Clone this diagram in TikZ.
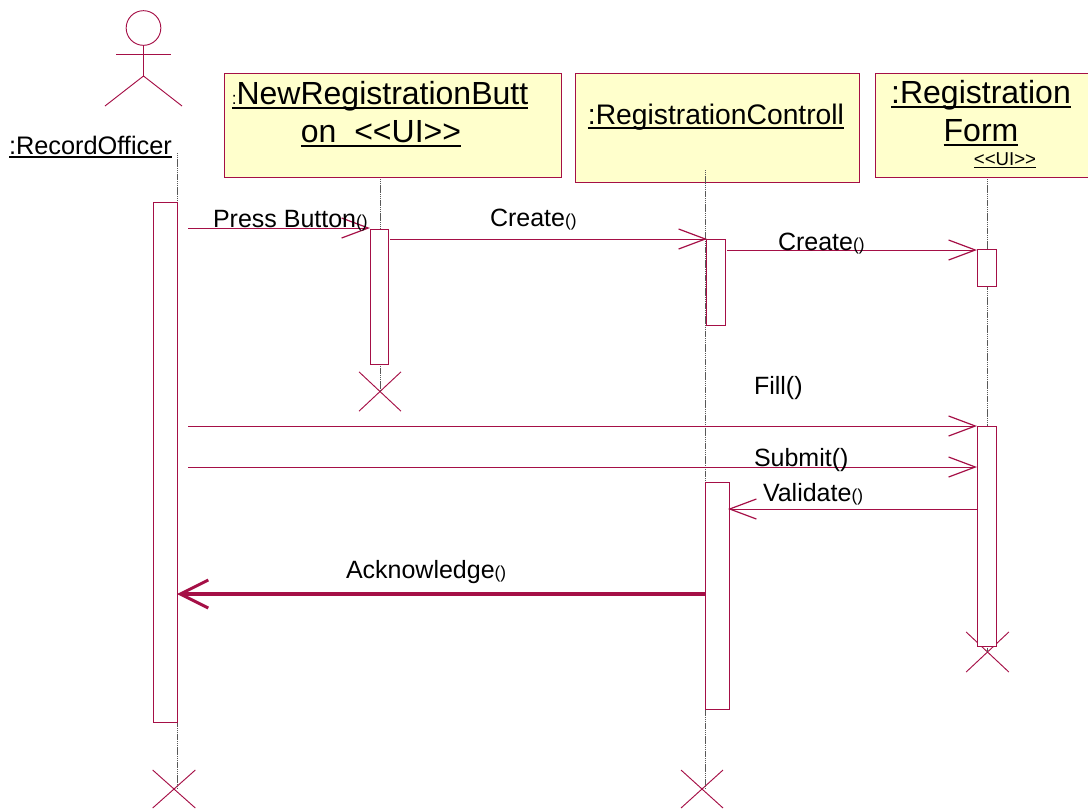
\documentclass[tikz,border=0pt]{standalone}
\usepackage{fontspec}
\setmainfont{Liberation Sans}
\usetikzlibrary{arrows.meta,shapes.misc}
\definecolor{umlline}{HTML}{A50F46}
\definecolor{umlfill}{HTML}{FFFFCC}
\newcommand{\ulined}[1]{\leavevmode\setbox0\hbox{#1}\rlap{\raisebox{-0.17em}{\rule{\wd0}{0.075em}}}\box0}
\newcommand{\pxfont}[1]{\fontsize{#1}{#1}\selectfont}
\newcommand{\uitag}{\textless\kern0pt\textless\kern0pt UI\textgreater\kern0pt\textgreater}
\begin{document}
\begin{tikzpicture}[
  x=0.75pt, y=-0.75pt,
  every node/.style={inner sep=0pt, outer sep=0pt},
  objbox/.style={rectangle, draw=umlline, fill=umlfill, line width=0.65pt},
  actbar/.style={rectangle, draw=umlline, fill=white, line width=0.7pt, minimum width=#1*0.75pt},
  destroyed/.style={cross out, draw=umlline, line width=0.7pt},
  lifeline/.style={black!65, dash pattern=on 1pt off 0.4pt, line width=0.5pt},
  msg/.style={draw=umlline, line width=0.7pt, -{Straight Barb[length=20pt, width=15pt, line width=0.9pt]}},
  retmsg/.style={draw=umlline, line width=2.5pt, -{Straight Barb[length=21pt, width=21pt, line width=2.2pt]}},
  actorline/.style={draw=umlline, line width=0.7pt},
  bigtext/.style={font=\pxfont{18.75}, anchor=base west},
  objtext/.style={align=center, anchor=base}
]
\useasboundingbox (0,0) rectangle (1088,808);

% Object boxes
\node[objbox, minimum width=252.75pt, minimum height=78pt] (buttonbox) at (392.5,125) {};
\node[objbox, minimum width=213pt, minimum height=81.75pt] (controlbox) at (717,127.5) {};
\node[objbox, minimum width=160.5pt, minimum height=78pt] (formbox) at (982,125) {};
\node[objtext, font=\pxfont{24}] (buttonname) at (380,104) {\ulined{{\pxfont{13}:}NewRegistrationButt}};
\node[objtext, font=\pxfont{24}] (buttonui) at (381,142) {\ulined{on\ \ \uitag}};
\node[objtext, font=\pxfont{21.2}] (controlname) at (716,124) {\ulined{:RegistrationControll}};
\node[objtext, font=\pxfont{24}] (formname) at (981,103) {\ulined{:Registration}};
\node[objtext, font=\pxfont{24}] (formword) at (981,141) {\ulined{Form}};
\node[objtext, font=\pxfont{14}] (formui) at (1005,165) {\ulined{\uitag}};

% Actor
\node[circle, draw=umlline, line width=0.7pt, minimum size=26pt] (head) at (143.5,28) {};
\coordinate (hip) at (143.5,76);
\coordinate (armL) at (116,54);
\coordinate (armR) at (171,54);
\coordinate (footL) at (105,106);
\coordinate (footR) at (182,106);
\draw[actorline] (head) -- (hip);
\draw[actorline] (armL) -- (armR);
\draw[actorline] (footL) -- (hip) -- (footR);
\node[bigtext, font=\pxfont{19}] (officer) at (9,154) {\ulined{:RecordOfficer}};

% Lifeline ends
\node[destroyed, minimum width=32pt, minimum height=28.5pt] (endofficer) at (174,789) {};
\node[destroyed, minimum width=31.5pt, minimum height=29.5pt] (endbutton) at (380,391.5) {};
\node[destroyed, minimum width=31.5pt, minimum height=28.5pt] (endcontrol) at (702,789) {};
\node[destroyed, minimum width=32pt, minimum height=30pt] (endform) at (987.5,652) {};
\coordinate (topofficer) at (177.5,153);
\coordinate (botofficer) at (177.5,789);
\coordinate (topbutton) at (380,179);
\coordinate (botbutton) at (380,391);
\coordinate (topcontrol) at (705,170);
\coordinate (botcontrol) at (705,789);
\coordinate (topform) at (987,179);
\coordinate (botform) at (987,652);

% Lifelines
\draw[lifeline] (topofficer) -- (botofficer);
\draw[lifeline] (topbutton) -- (botbutton);
\draw[lifeline] (topcontrol) -- (botcontrol);
\draw[lifeline] (topform) -- (botform);

% Activation bars
\node[actbar=24.5, minimum height=390pt] (barofficer) at (165.25,462) {};
\node[actbar=18, minimum height=101.25pt] (barbutton) at (379,296.5) {};
\node[actbar=18.5, minimum height=64.5pt] (barcontrol) at (716,282) {};
\node[actbar=19, minimum height=27.75pt] (barform) at (986.5,267.5) {};
\node[actbar=24, minimum height=170.25pt] (barcontroltwo) at (717,595.5) {};
\node[actbar=19, minimum height=165pt] (barformtwo) at (986.5,536) {};

% Messages
\coordinate (pressS) at (188,228);
\coordinate (pressE) at (370,228);
\coordinate (createS) at (390,239);
\coordinate (createE) at (707,239);
\coordinate (createtwoS) at (727,250);
\coordinate (createtwoE) at (977,250);
\coordinate (fillS) at (188,426);
\coordinate (fillE) at (977,426);
\coordinate (submitS) at (188,467);
\coordinate (submitE) at (977,467);
\coordinate (validateS) at (977,509);
\coordinate (validateE) at (728,509);
\coordinate (ackS) at (705,594);
\coordinate (ackE) at (177,594);
\draw[msg] (pressS) -- (pressE);
\draw[msg] (createS) -- (createE);
\draw[msg] (createtwoS) -- (createtwoE);
\draw[msg] (fillS) -- (fillE);
\draw[msg] (submitS) -- (submitE);
\draw[msg] (validateS) -- (validateE);
\draw[retmsg] (ackS) -- (ackE);

% Labels
\node[bigtext] (presslabel) at (213,227) {Press Button{\pxfont{13}()}};
\node[bigtext] (createlabel) at (490,226) {Create{\pxfont{13}()}};
\node[bigtext] (createtwolabel) at (778,250) {Create{\pxfont{13}()}};
\node[bigtext] (filllabel) at (754,394) {Fill()};
\node[bigtext] (submitlabel) at (754,466) {Submit()};
\node[bigtext] (validatelabel) at (763,501) {Validate{\pxfont{13}()}};
\node[bigtext] (acklabel) at (346,578) {Acknowledge{\pxfont{13}()}};
\end{tikzpicture}
\end{document}
